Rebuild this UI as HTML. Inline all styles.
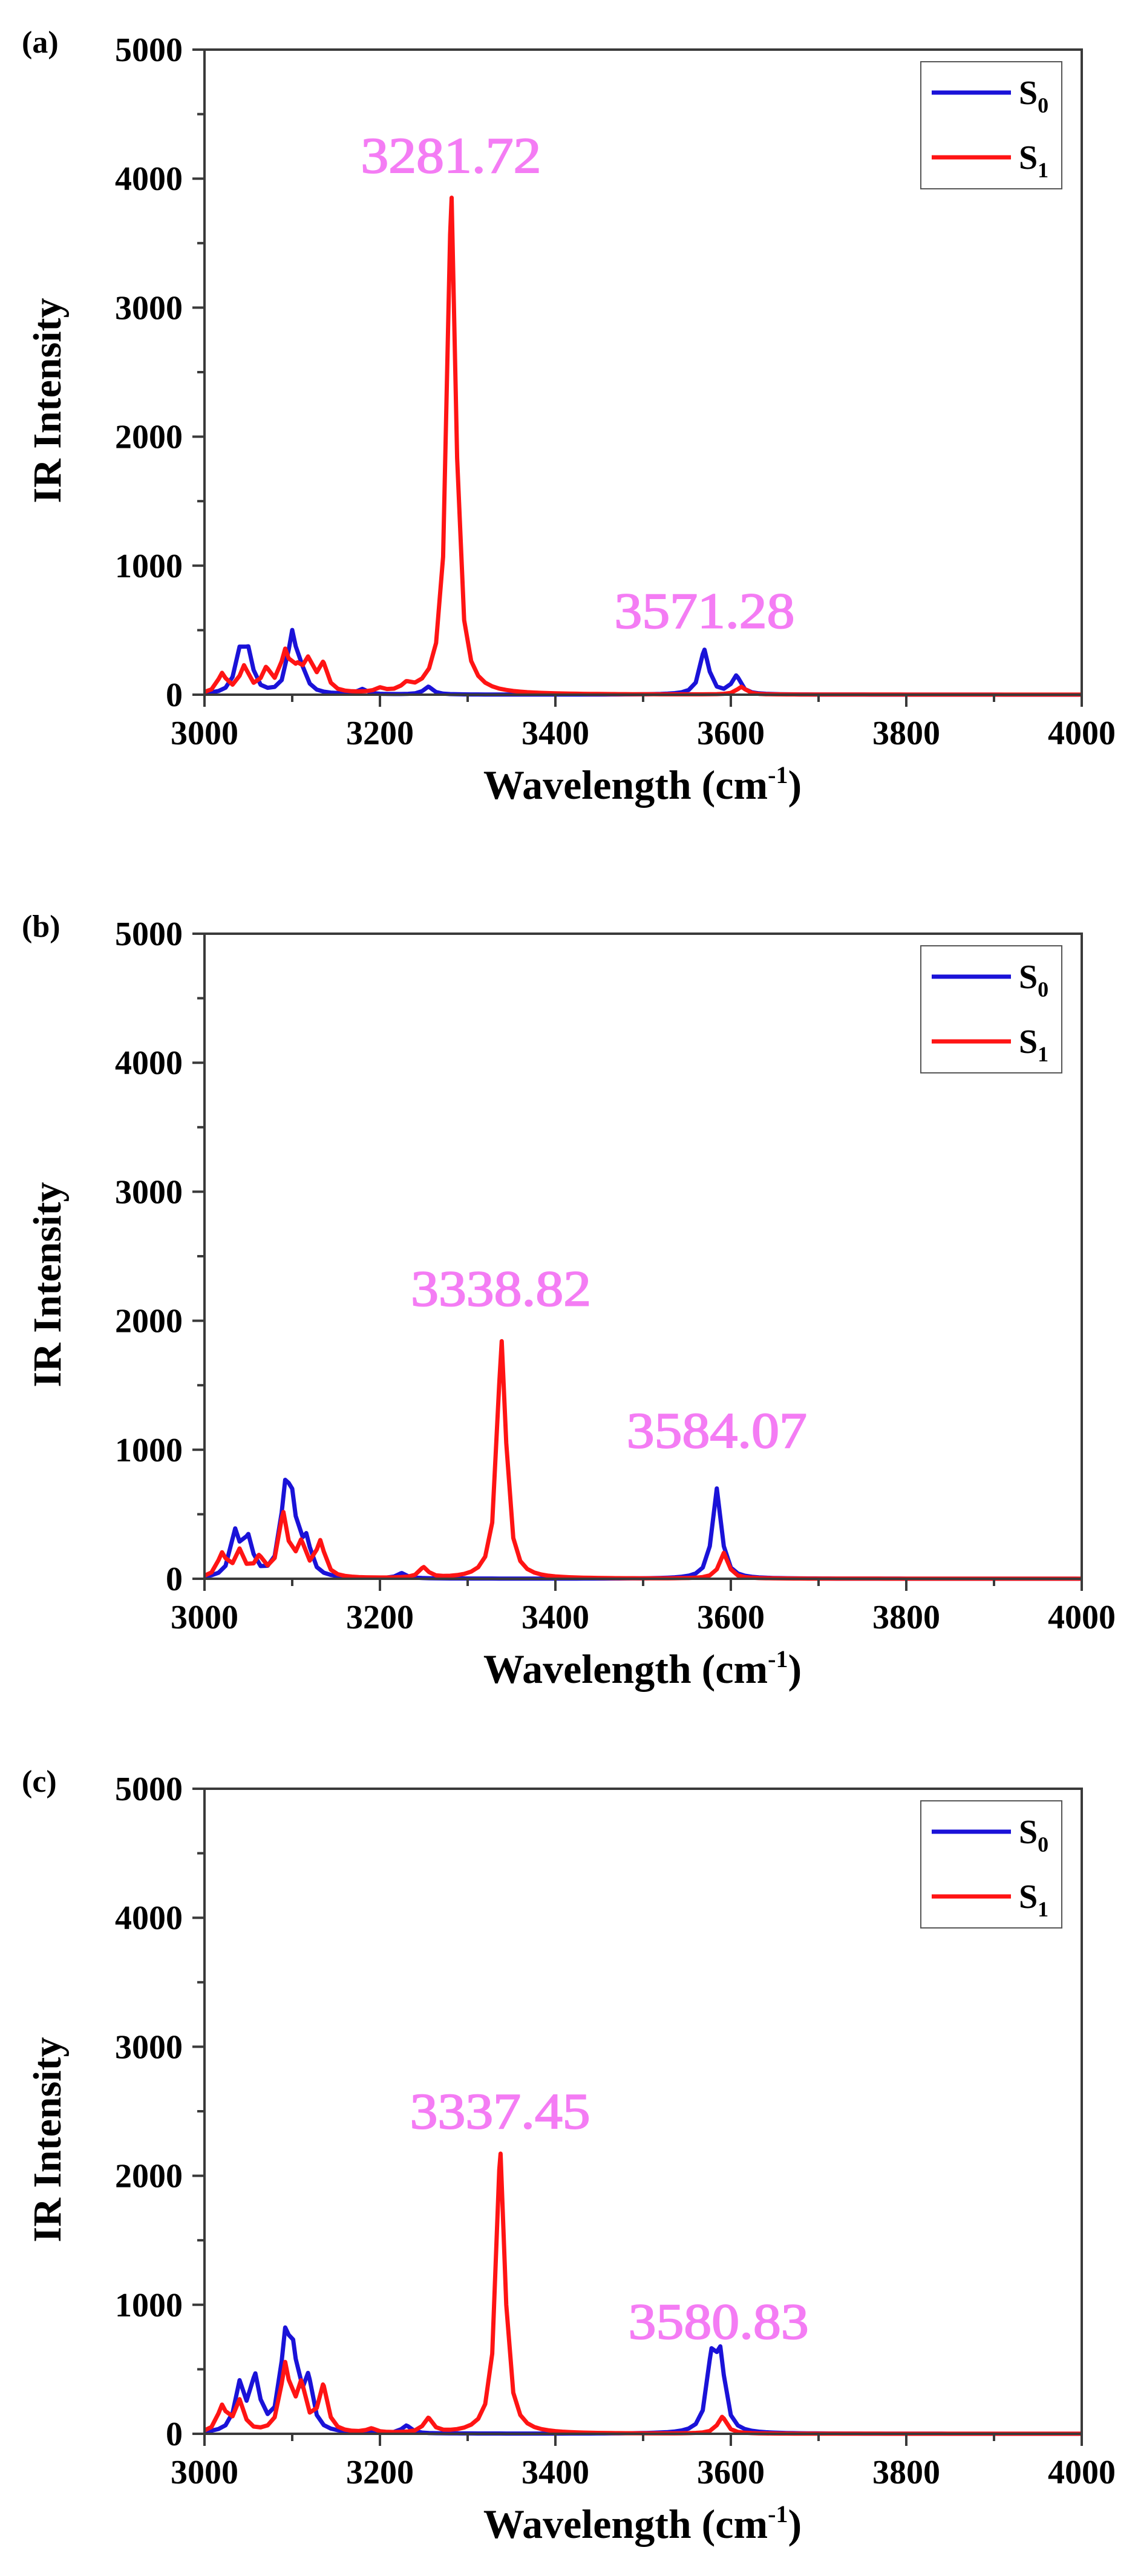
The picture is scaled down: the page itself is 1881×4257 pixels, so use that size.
<!DOCTYPE html>
<html><head><meta charset="utf-8"><style>
html,body{margin:0;padding:0;background:#fff}
svg{display:block}
</style></head><body>
<svg id="s" xmlns="http://www.w3.org/2000/svg" width="1881" height="4257" viewBox="0 0 1881 4257" font-family="Liberation Serif, serif"></svg>
<script>
const svg=document.getElementById('s');
const L=338,R=1788,H=1066;
const panels=[
 {T:82,lab:'(a)',
  blue:[[3040,290],[3050,290],[3100,470],[3112,120],[3180,40],[3255,60],[3570,345],[3606,140]],
  red:[[3020,150],[3045,200],[3070,170],[3092,300],[3106,140],[3118,220],[3135,210],[3200,30],[3230,50],[3281.7,3850],[3612,60]],
  ann:[['3281.72',3281,4180],['3571.28',3570,650]]},
 {T:1543,lab:'(b)',
  blue:[[3035,340],[3050,280],[3092,580],[3100,450],[3116,260],[3225,40],[3584,700]],
  red:[[3020,180],[3040,200],[3062,140],[3090,480],[3110,240],[3132,270],[3250,80],[3338.8,1840],[3592,200]],
  ann:[['3338.82',3338,2250],['3584.07',3584,1150]]},
 {T:2956,lab:'(c)',
  blue:[[3040,360],[3058,400],[3092,640],[3101,480],[3118,380],[3230,60],[3578,520],[3588,540]],
  red:[[3020,200],[3040,240],[3092,510],[3110,340],[3135,350],[3190,30],[3255,110],[3337.5,2170],[3590,130]],
  ann:[['3337.45',3337,2500],['3580.83',3586,870]]}
];
let out='';
for(const p of panels){
 const T=p.T,B=T+H;
 const X=w=>L+(w-3000)/1000*(R-L), Y=v=>B-v/5000*H;
 const path=(pk,col)=>{
  let ws=[];for(let w=3000;w<=4000;w+=8)ws.push(w);
  for(const [c] of pk)ws.push(c);
  ws.sort((a,b)=>a-b);
  let d='';ws.forEach((w,i)=>{let v=0;for(const [c,a] of pk){const g=6;v+=a*g*g/((w-c)*(w-c)+g*g);}d+=(i==0?'M':'L')+X(w).toFixed(1)+','+Y(v).toFixed(1);});
  return `<path d="${d}" fill="none" stroke="${col}" stroke-width="7" stroke-linejoin="round"/>`;};
 out+=path(p.blue,'#1a12d8')+path(p.red,'#ff1414');
 out+=`<rect x="${L}" y="${T}" width="${R-L}" height="${H}" fill="none" stroke="#3a3a3a" stroke-width="4"/>`;
 for(let v=0;v<=5000;v+=500){const maj=v%1000==0;out+=`<line x1="${L}" x2="${L-(maj?20:12)}" y1="${Y(v)}" y2="${Y(v)}" stroke="#3a3a3a" stroke-width="4"/>`;
  if(maj)out+=`<text x="${L-36}" y="${Y(v)+19}" font-size="56" font-weight="bold" text-anchor="end">${v}</text>`;}
 for(let w=3000;w<=4000;w+=100){const maj=w%200==0;out+=`<line x1="${X(w)}" x2="${X(w)}" y1="${B}" y2="${B+(maj?20:12)}" stroke="#3a3a3a" stroke-width="4"/>`;
  if(maj)out+=`<text x="${X(w)}" y="${B+82}" font-size="56" font-weight="bold" text-anchor="middle">${w}</text>`;}
 out+=`<text x="1062" y="${B+172}" font-size="68" font-weight="bold" text-anchor="middle">Wavelength (cm<tspan dy="-26" font-size="40">-1</tspan><tspan dy="26">)</tspan></text>`;
 out+=`<text transform="translate(100,${T+580}) rotate(-90)" font-size="66" font-weight="bold" text-anchor="middle">IR Intensity</text>`;
 out+=`<text x="36" y="${T+5}" font-size="52" font-weight="bold">${p.lab}</text>`;
 out+=`<rect x="1522" y="${T+20}" width="233" height="210" fill="#fff" stroke="#555" stroke-width="2"/>`;
 out+=`<line x1="1540" x2="1671" y1="${T+71}" y2="${T+71}" stroke="#1a12d8" stroke-width="7"/>`;
 out+=`<line x1="1540" x2="1671" y1="${T+178}" y2="${T+178}" stroke="#ff1414" stroke-width="7"/>`;
 out+=`<text x="1684" y="${T+90}" font-size="56" font-weight="bold">S<tspan dy="14" font-size="36">0</tspan></text>`;
 out+=`<text x="1684" y="${T+197}" font-size="56" font-weight="bold">S<tspan dy="14" font-size="36">1</tspan></text>`;
 for(const [t,w,v] of p.ann)out+=`<text x="${X(w)}" y="${Y(v)+28}" font-size="84" fill="#f47cf4" stroke="#f47cf4" stroke-width="2" text-anchor="middle" textLength="298" lengthAdjust="spacingAndGlyphs">${t}</text>`;
}
svg.innerHTML=out;
</script>
</body></html>
